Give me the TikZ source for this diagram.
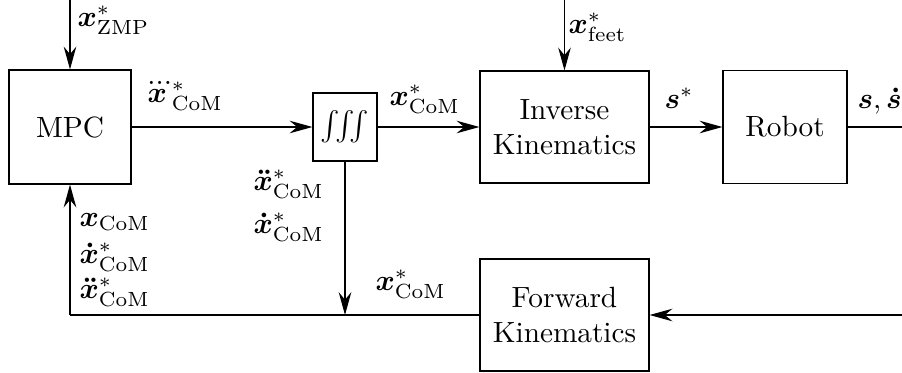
\documentclass[tikz,border=0pt]{standalone}
\usepackage{amsmath,bm}
\usetikzlibrary{arrows.meta}
\def\unitpx{0.34146pt}
\begin{document}
\begin{tikzpicture}[x=0.34146pt,y=-0.34146pt,
  box/.style={draw, rectangle, inner sep=0pt, align=center},
  arr/.style={-{Stealth[length=7.8pt,width=4.3pt,inset=2.6pt]}},
  lbl/.style={inner sep=0pt, anchor=base west}]
\useasboundingbox (0,0) rectangle (902,373);
% blocks
\node[box, minimum width=122*\unitpx, minimum height=114*\unitpx] (mpc) at (70,127) {MPC};
\node[box, minimum width=64*\unitpx, minimum height=68*\unitpx] (int) at (345,127) {$\int\!\!\int\!\!\int$};
\node[box, minimum width=169*\unitpx, minimum height=112*\unitpx] (ik) at (564.5,127) {Inverse\\Kinematics};
\node[box, minimum width=124*\unitpx, minimum height=113*\unitpx] (robot) at (785,127) {Robot};
\node[box, minimum width=169*\unitpx, minimum height=112*\unitpx] (fk) at (564.5,315) {Forward\\Kinematics};
% free ends
\coordinate (zmpin) at (70,0);
\coordinate (feetin) at (564.5,0);
\coordinate (robout) at (902,127);
\coordinate (fkin) at (902,315);
\coordinate (corner) at (70,315);
\coordinate (junc) at (345,315);
% connectors
\draw[arr] (zmpin) -- (mpc.north);
\draw[arr] (feetin) -- (ik.north);
\draw[arr] (mpc) -- (int);
\draw[arr] (int) -- (ik);
\draw[arr] (ik) -- (robot);
\draw (robot.east) -- (robout);
\draw[arr] (fkin) -- (fk.east);
\draw (fk.west) -- (corner);
\draw[arr] (corner) -- (mpc.south);
\draw[arr] (int.south) -- (junc);
% labels
\node[lbl] (lzmp) at (77,26) {$\bm{x}^*_{\mathrm{ZMP}}$};
\node[lbl] (lfeet) at (568,33) {$\bm{x}^*_{\mathrm{feet}}$};
\node[lbl] (lacc) at (142,102) {$\bm{\dddot{x}}^*_{\mathrm{CoM}}$};
\node[lbl] (lpos) at (389,105) {$\bm{x}^*_{\mathrm{CoM}}$};
\node[lbl] (ls) at (664,108) {$\bm{s}^*$};
\node[lbl] (lsd) at (857,108) {$\bm{s},\bm{\dot{s}}$};
\node[lbl] (lia) at (253,190) {$\bm{\ddot{x}}^*_{\mathrm{CoM}}$};
\node[lbl] (liv) at (253,233) {$\bm{\dot{x}}^*_{\mathrm{CoM}}$};
\node[lbl] (lfx) at (79,226) {$\bm{x}_{\mathrm{CoM}}$};
\node[lbl] (lfv) at (79,263) {$\bm{\dot{x}}^*_{\mathrm{CoM}}$};
\node[lbl] (lfa) at (79,298) {$\bm{\ddot{x}}^*_{\mathrm{CoM}}$};
\node[lbl] (lbx) at (375,290) {$\bm{x}^*_{\mathrm{CoM}}$};
\end{tikzpicture}
\end{document}
